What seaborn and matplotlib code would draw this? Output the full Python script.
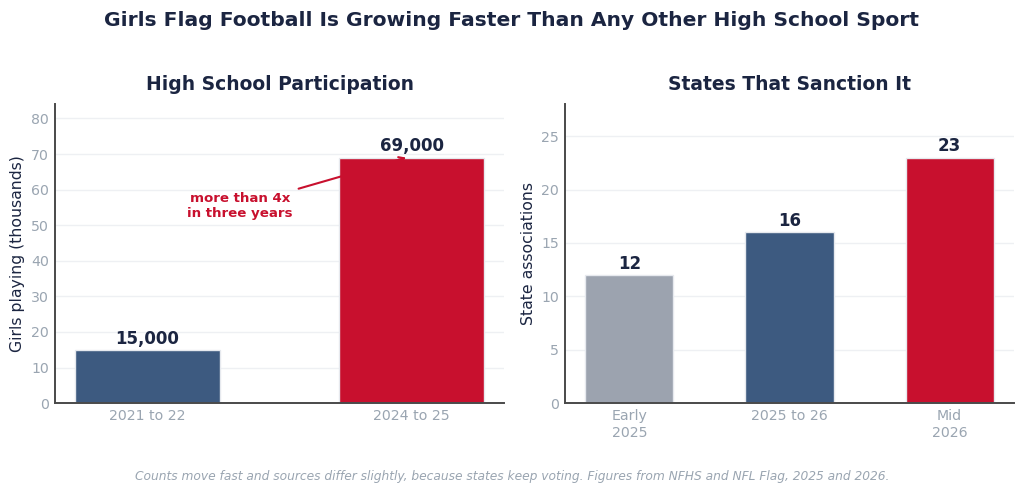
import matplotlib
matplotlib.use("Agg")
import matplotlib.pyplot as plt
import seaborn as sns
import pandas as pd

# data
seasons = ["2021 to 22", "2024 to 25"]
players_k = [15, 69]
player_labels = ["15,000", "69,000"]

periods = ["Early\n2025", "2025 to 26", "Mid\n2026"]
states = [12, 16, 23]

NAVY = "#3d5a80"
RED = "#c8102e"
GRAY = "#9ca3af"
DARK = "#1b2541"
TICK = "#9aa5b1"

sns.set_theme(style="white")
plt.rcParams["font.family"] = ["DejaVu Sans"]

fig = plt.figure(figsize=(10.24, 4.94), dpi=100)
ax1 = fig.add_axes([0.0537, 0.184, 0.4385, 0.605])
ax2 = fig.add_axes([0.552, 0.184, 0.438, 0.605])


def style(ax):
    sns.despine(ax=ax)
    for s in ["left", "bottom"]:
        ax.spines[s].set_color("#4a4a4a")
        ax.spines[s].set_linewidth(1.4)
    ax.yaxis.grid(True, color="#eef0f3", linewidth=1)
    ax.set_axisbelow(True)
    ax.tick_params(axis="both", colors=TICK, labelsize=10.2, length=0, pad=4.5)
    ax.set_xlabel("")


df1 = pd.DataFrame({"season": seasons, "k": players_k})
sns.barplot(data=df1, x="season", y="k", hue="season", palette=[NAVY, RED],
            legend=False, width=0.55, saturation=1, edgecolor="#e6e9ee",
            linewidth=1, ax=ax1)
style(ax1)
ax1.set_ylim(0, 84)
ax1.set_xlim(-0.35, 1.35)
ax1.set_yticks(range(0, 81, 10))
ax1.set_ylabel("Girls playing (thousands)", fontsize=11.3, color=DARK, labelpad=4)
ax1.set_title("High School Participation", fontsize=13.5, fontweight="bold",
              color=DARK, pad=10)
for i, (v, lab) in enumerate(zip(players_k, player_labels)):
    ax1.text(i, v + 0.6, lab, ha="center", va="bottom", fontsize=12,
             fontweight="bold", color=DARK)
ax1.annotate("more than 4x\nin three years", xy=(0.98, 69), xytext=(0.35, 55.5),
             ha="center", va="center", fontsize=9.6, fontweight="bold", color=RED,
             arrowprops=dict(arrowstyle="->", color=RED, lw=1.5,
                             shrinkA=2, shrinkB=0))

df2 = pd.DataFrame({"period": periods, "n": states})
sns.barplot(data=df2, x="period", y="n", hue="period",
            palette=[GRAY, NAVY, RED], legend=False, width=0.55, saturation=1,
            edgecolor="#e6e9ee", linewidth=1, ax=ax2)
style(ax2)
ax2.set_ylim(0, 28)
ax2.set_xlim(-0.4, 2.4)
ax2.set_yticks(range(0, 26, 5))
ax2.set_ylabel("State associations", fontsize=11.3, color=DARK, labelpad=4)
ax2.set_title("States That Sanction It", fontsize=13.5, fontweight="bold",
              color=DARK, pad=10)
for i, v in enumerate(states):
    ax2.text(i, v + 0.2, str(v), ha="center", va="bottom", fontsize=12,
             fontweight="bold", color=DARK)

fig.suptitle("Girls Flag Football Is Growing Faster Than Any Other High School Sport",
             fontsize=14.6, fontweight="bold", color=DARK, y=0.978)
fig.text(0.5, 0.036,
         "Counts move fast and sources differ slightly, because states keep voting. "
         "Figures from NFHS and NFL Flag, 2025 and 2026.",
         ha="center", va="center", fontsize=8.8, style="italic", color=TICK)

fig.savefig("out.png", dpi=100)
